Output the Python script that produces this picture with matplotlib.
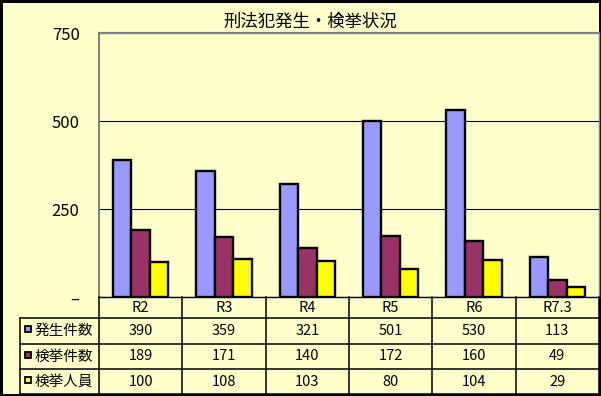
import matplotlib
matplotlib.use("Agg")
import matplotlib.pyplot as plt
from matplotlib.patches import Rectangle
import numpy as np

plt.rcParams['font.family'] = ['Noto Sans CJK JP', 'DejaVu Sans']

title = "刑法犯発生・検挙状況"
categories = ["R2", "R3", "R4", "R5", "R6", "R7.3"]
series_names = ["発生件数", "検挙件数", "検挙人員"]
occurrences = [390, 359, 321, 501, 530, 113]
arrests = [189, 171, 140, 172, 160, 49]
persons = [100, 108, 103, 80, 104, 29]
series_values = [occurrences, arrests, persons]
colors = ["#9999FF", "#993366", "#FFFF00"]
yticks = [0, 250, 500, 750]
ytick_labels = ["\u2013", "250", "500", "750"]

W, H = 601, 396
bg = "#FFFFCC"
fig = plt.figure(figsize=(W / 100, H / 100), dpi=100, facecolor=bg)
fig.patch.set_edgecolor("black")
fig.patch.set_linewidth(2.5)

# main plot area: x 99..599, y 33..297 (pixels from top)
ax = fig.add_axes([99 / W, (H - 297) / H, 500 / W, 264 / H])
ax.set_facecolor(bg)
n = len(categories)
x = np.arange(n)
bw = 0.222
for k, (vals, c) in enumerate(zip(series_values, colors)):
    ax.bar(x + (k - 1) * bw, vals, width=bw, color=c, edgecolor="black",
           linewidth=1.7, zorder=3)
ax.set_xlim(-0.5, n - 0.5)
ax.set_ylim(0, 750)
ax.set_yticks(yticks)
ax.set_yticklabels(ytick_labels, fontsize=12)
ax.tick_params(axis="y", length=0, pad=14)
ax.set_xticks([])
ax.yaxis.grid(True, color="black", linewidth=0.8)
ax.set_axisbelow(True)
for s in ["top", "left", "right"]:
    ax.spines[s].set_color("#808080")
ax.spines["top"].set_linewidth(1.6)
ax.spines["left"].set_linewidth(1.4)
ax.spines["right"].set_linewidth(1.0)
ax.spines["bottom"].set_color("black")
ax.spines["bottom"].set_linewidth(1.0)

# title
fig.text(310 / W, 1 - 21.5 / H, title, ha="center", va="center", fontsize=12.5)

# data table: x in category units, y in pixels from top
axt = fig.add_axes([99 / W, (H - 394) / H, 500 / W, 97 / H])
axt.set_xlim(-0.5, n - 0.5)
axt.set_ylim(394, 297)
axt.axis("off")
px = 500 / n  # pixels per category
left_edge = -0.5 - 79 / px
row_lines = [318, 344, 369, 394]
lw_t = 1.1
for y in row_lines:
    axt.plot([left_edge, n - 0.5], [y, y], color="black", lw=lw_t, clip_on=False,
             solid_capstyle="projecting")
for k in range(n + 1):
    axt.plot([-0.5 + k, -0.5 + k], [297, 394], color="black", lw=lw_t, clip_on=False)
axt.plot([left_edge, left_edge], [318, 394], color="black", lw=lw_t, clip_on=False)

for i, cat in enumerate(categories):
    axt.text(i, 308, cat, ha="center", va="center", fontsize=10.5)

row_centers = [331, 356.5, 381.5]
for r, (name, vals, c) in enumerate(zip(series_names, series_values, colors)):
    yc = row_centers[r]
    axt.add_patch(Rectangle((-0.5 - 74 / px, yc - 5), 6 / px, 6, facecolor=c,
                            edgecolor="black", lw=1.3, clip_on=False))
    axt.text(-0.5 - 64 / px, yc, name, ha="left", va="center", fontsize=10.5)
    for i, v in enumerate(vals):
        axt.text(i, yc, str(v), ha="center", va="center", fontsize=10.5)

fig.savefig("out.png", dpi=100, facecolor=bg, edgecolor="black")
